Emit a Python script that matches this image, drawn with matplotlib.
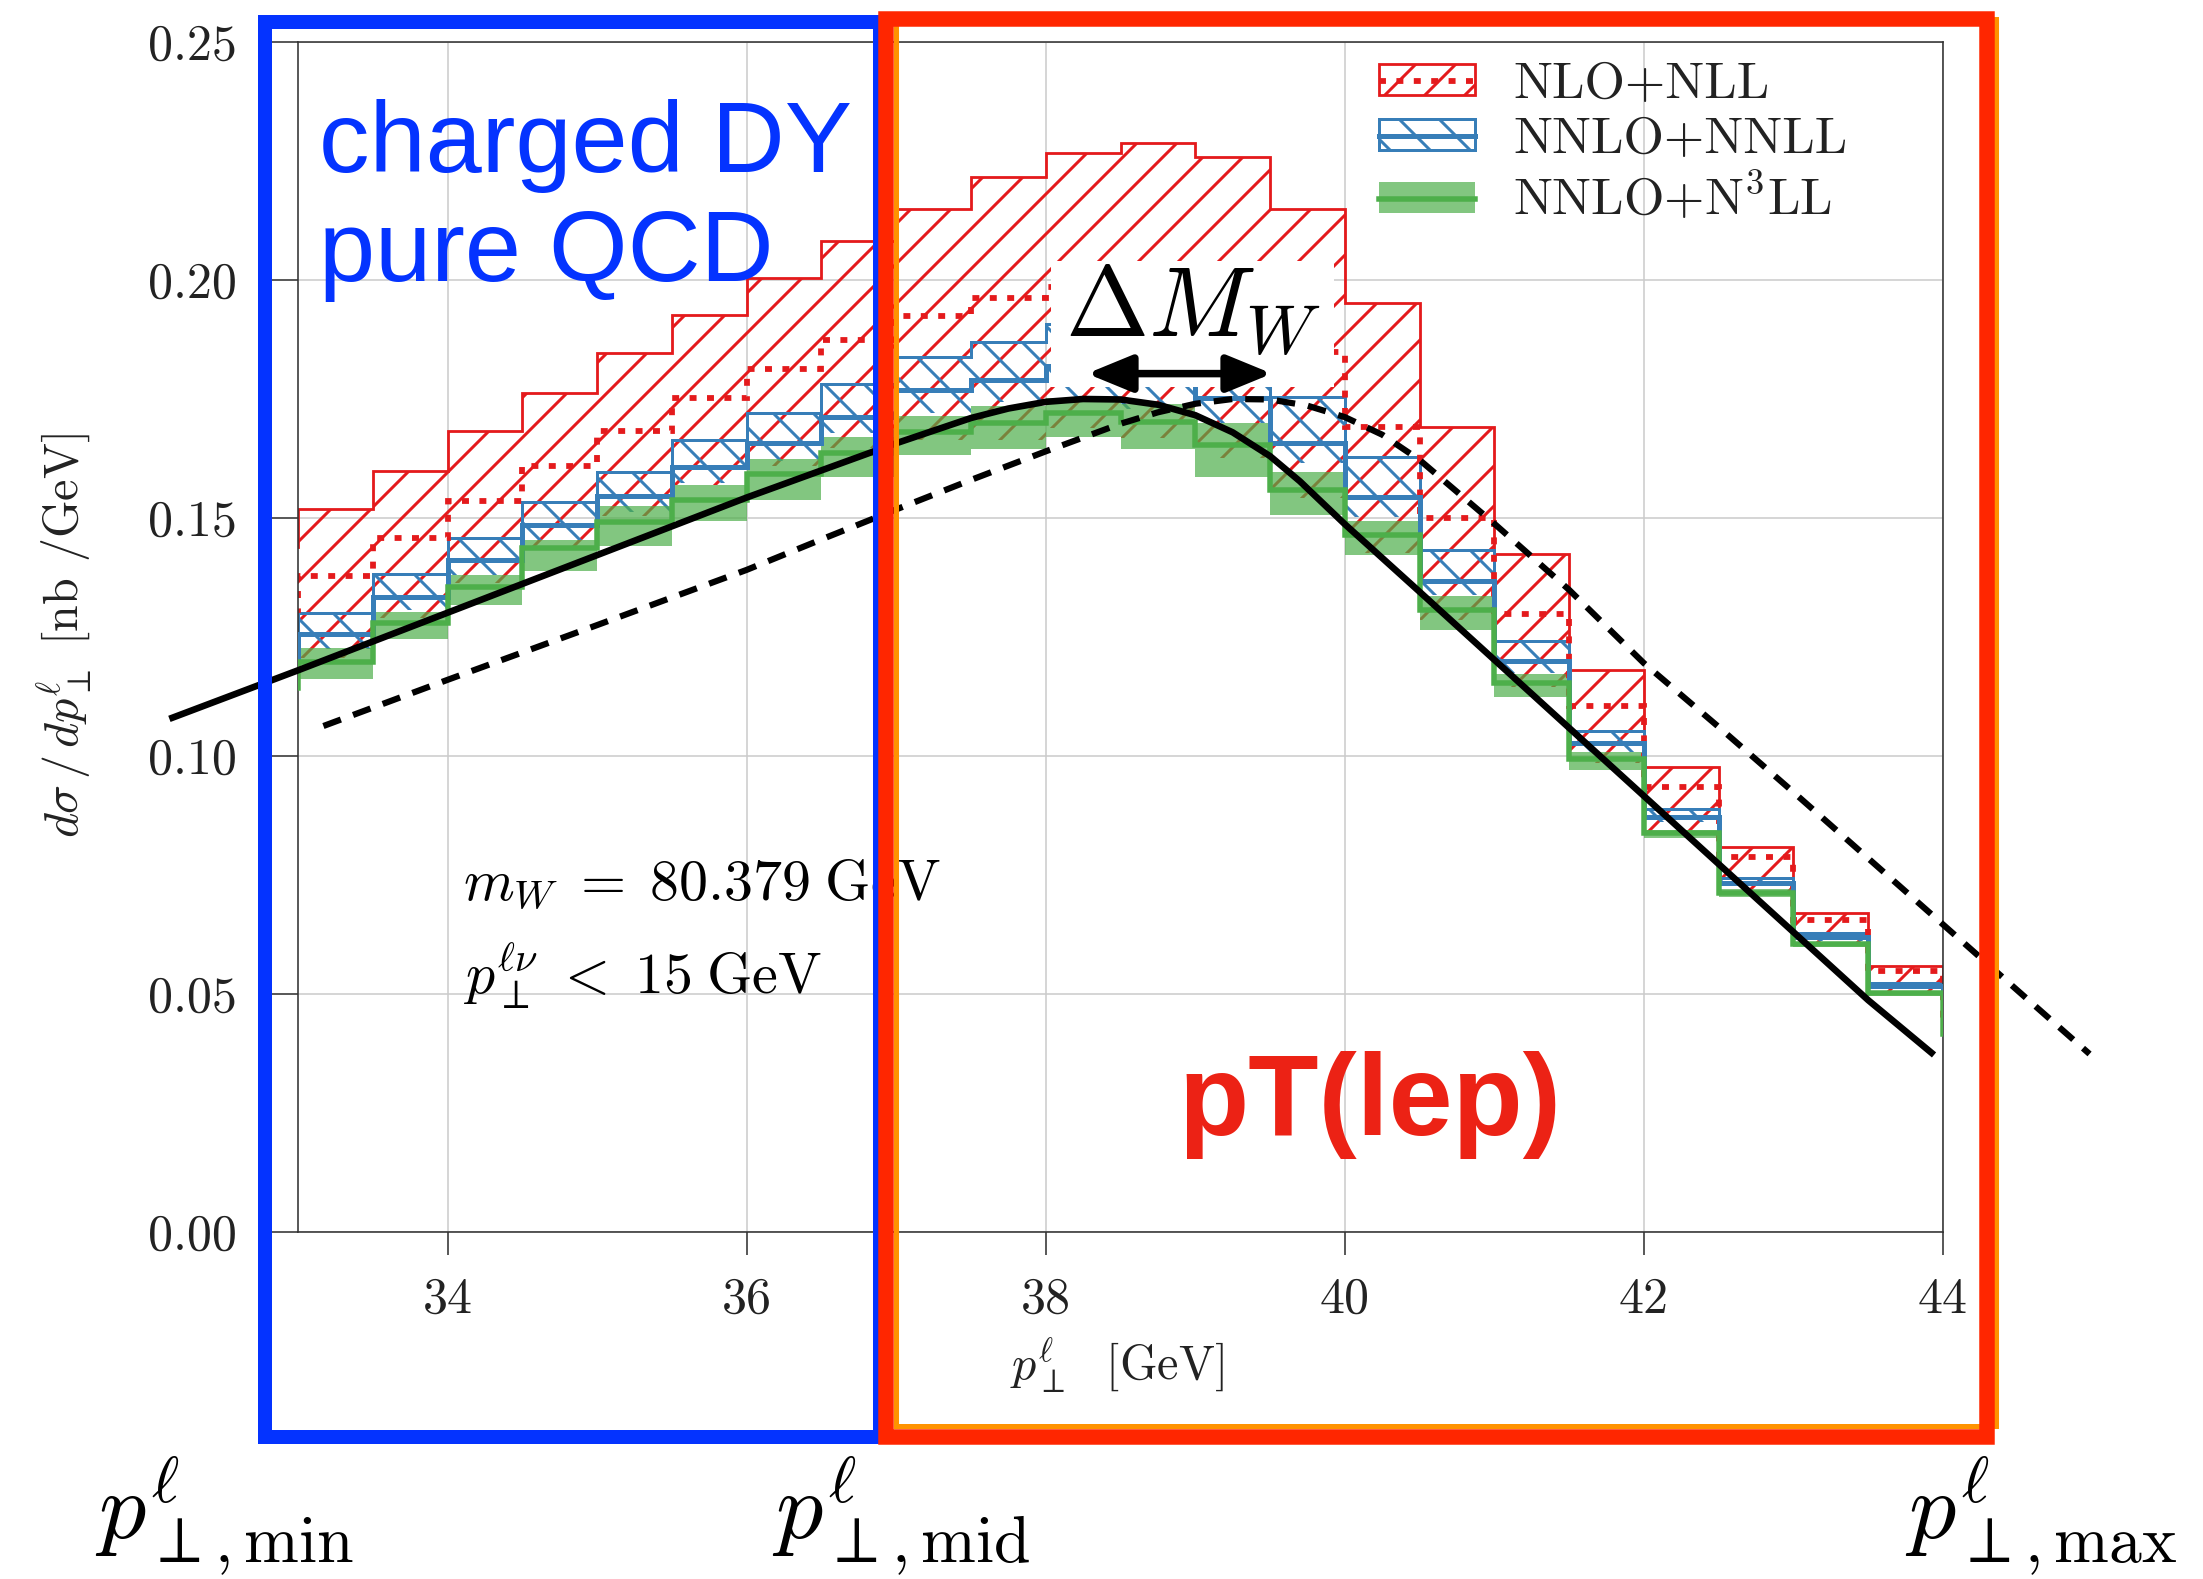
import numpy as np
import matplotlib
matplotlib.use("Agg")
import matplotlib.pyplot as plt
from matplotlib.patches import Rectangle, Patch
from matplotlib.lines import Line2D
from matplotlib.ticker import FixedLocator, FormatStrFormatter

# ------------------------------------------------------------------ data
bin_edges = [32.5, 33.0, 33.5, 34.0, 34.5, 35.0, 35.5, 36.0, 36.5, 37.0, 37.5, 38.0,
             38.5, 39.0, 39.5, 40.0, 40.5, 41.0, 41.5, 42.0, 42.5, 43.0, 43.5, 44.0, 44.5]

nlo_upper = [0.1440, 0.1519, 0.1599, 0.1683, 0.1763, 0.1847, 0.1927, 0.2004, 0.2082, 0.2150,
             0.2217, 0.2266, 0.2288, 0.2258, 0.2149, 0.1952, 0.1692, 0.1425, 0.1181, 0.0977,
             0.0809, 0.0671, 0.0558, 0.0460]
nlo_central = [0.1307, 0.1378, 0.1457, 0.1535, 0.1609, 0.1682, 0.1753, 0.1812, 0.1874, 0.1925,
               0.1962, 0.1985, 0.1985, 0.1940, 0.1848, 0.1692, 0.1499, 0.1298, 0.1105, 0.0935,
               0.0787, 0.0655, 0.0548, 0.0450]
nlo_lower = [0.1130, 0.1206, 0.1290, 0.1363, 0.1440, 0.1505, 0.1570, 0.1610, 0.1647, 0.1664,
             0.1664, 0.1690, 0.1668, 0.1626, 0.1542, 0.1426, 0.1286, 0.1146, 0.0985, 0.0840,
             0.0712, 0.0602, 0.0500, 0.0410]

nnlo_upper = [0.1250, 0.1300, 0.1382, 0.1459, 0.1534, 0.1597, 0.1664, 0.1721, 0.1782, 0.1838,
              0.1870, 0.1907, 0.1900, 0.1850, 0.1755, 0.1628, 0.1433, 0.1242, 0.1053, 0.0888,
              0.0744, 0.0628, 0.0524, 0.0440]
nnlo_central = [0.1206, 0.1256, 0.1335, 0.1412, 0.1485, 0.1546, 0.1607, 0.1657, 0.1713, 0.1768,
                0.1790, 0.1820, 0.1800, 0.1752, 0.1657, 0.1545, 0.1368, 0.1200, 0.1027, 0.0872,
                0.0734, 0.0620, 0.0517, 0.0430]
nnlo_lower = [0.1170, 0.1225, 0.1307, 0.1380, 0.1454, 0.1513, 0.1573, 0.1620, 0.1678, 0.1720,
              0.1744, 0.1748, 0.1730, 0.1700, 0.1615, 0.1503, 0.1338, 0.1174, 0.1009, 0.0862,
              0.0727, 0.0612, 0.0511, 0.0420]

n3ll_upper = [0.1170, 0.1227, 0.1303, 0.1380, 0.1454, 0.1525, 0.1570, 0.1625, 0.1670, 0.1715,
              0.1736, 0.1752, 0.1740, 0.1700, 0.1596, 0.1493, 0.1336, 0.1173, 0.1008, 0.0845,
              0.0720, 0.0609, 0.0506, 0.0430]
n3ll_central = [0.1143, 0.1198, 0.1280, 0.1356, 0.1437, 0.1492, 0.1538, 0.1592, 0.1636, 0.1681,
                0.1699, 0.1720, 0.1702, 0.1653, 0.1559, 0.1464, 0.1307, 0.1153, 0.0993, 0.0838,
                0.0713, 0.0605, 0.0502, 0.0416]
n3ll_lower = [0.1100, 0.1162, 0.1245, 0.1317, 0.1389, 0.1441, 0.1494, 0.1538, 0.1587, 0.1632,
              0.1646, 0.1671, 0.1646, 0.1587, 0.1506, 0.1422, 0.1265, 0.1124, 0.0971, 0.0828,
              0.0703, 0.0599, 0.0496, 0.0400]

# curves (solid: nominal, dashed: shifted mass)
solid_x = [32.14, 33.0, 34.0, 35.0, 36.0, 36.5, 37.0, 37.5, 37.75, 38.0, 38.25, 38.5, 38.75,
           39.0, 39.25, 39.5, 39.7, 40.0, 40.5, 41.0, 41.5, 42.0, 42.5, 43.0, 43.5, 43.94]
solid_y = [0.1078, 0.1180, 0.1301, 0.1422, 0.1543, 0.1600, 0.1657, 0.1710, 0.1730, 0.1744,
           0.1750, 0.1749, 0.1738, 0.1716, 0.1680, 0.1630, 0.1577, 0.1487, 0.1345, 0.1202,
           0.1059, 0.0916, 0.0773, 0.0630, 0.0487, 0.0372]
dashed_x = [33.17, 34.0, 35.0, 36.0, 36.5, 37.0, 37.5, 38.0, 38.5, 38.75, 39.0, 39.25, 39.5,
            39.75, 40.0, 40.25, 40.5, 41.0, 41.5, 42.0, 42.5, 43.0, 43.5, 44.0, 44.5, 44.98]
dashed_y = [0.1063, 0.1160, 0.1275, 0.1391, 0.1455, 0.1518, 0.1580, 0.1640, 0.1698, 0.1722,
            0.1740, 0.1750, 0.1749, 0.1736, 0.1712, 0.1675, 0.1622, 0.1488, 0.1349, 0.1195,
            0.1061, 0.0924, 0.0785, 0.0646, 0.0507, 0.0374]

x_ticks = [34, 36, 38, 40, 42, 44]
y_ticks = [0.00, 0.05, 0.10, 0.15, 0.20, 0.25]
legend_labels = ["NLO+NLL", "NNLO+NNLL", r"NNLO+N$^{3}$LL"]

# ------------------------------------------------------------------ style
W, H, DPI = 2203, 1579, 120


def P(px):
    """pixels -> points at the output dpi"""
    return px * 72.0 / DPI


plt.rcParams["font.family"] = ["cmr10", "DejaVu Serif"]
plt.rcParams["mathtext.fontset"] = "cm"
plt.rcParams["axes.formatter.use_mathtext"] = True
plt.rcParams["axes.unicode_minus"] = False
plt.rcParams["hatch.linewidth"] = P(3.0)

RED = "#E41A1C"
BLUE = "#377EB8"
GREEN = "#4DAF4A"
FRAME_BLUE = "#0433FF"
FRAME_RED = "#FF2600"
FRAME_ORANGE = "#FF9300"
TXT_RED = "#EC2215"
DARK = "#222222"


def fx(px):
    return px / W


def fy(py):
    return 1 - py / H


fig = plt.figure(figsize=(W / DPI, H / DPI), dpi=DPI)
ax = fig.add_axes([fx(298), fy(1232), (1943 - 298) / W, (1232 - 42) / H])
ax.set_xlim(33, 44)
ax.set_ylim(0, 0.25)

ax.grid(True, color="#cccccc", lw=P(1.6))
ax.set_axisbelow(True)
for sp in ax.spines.values():
    sp.set_color("#333333")
    sp.set_linewidth(P(1.6))

ax.xaxis.set_major_locator(FixedLocator(x_ticks))
ax.yaxis.set_major_locator(FixedLocator(y_ticks))
ax.xaxis.set_major_formatter(FormatStrFormatter("%d"))
ax.yaxis.set_major_formatter(FormatStrFormatter("%.2f"))
ax.tick_params(axis="x", direction="out", length=P(23), width=P(1.6), pad=P(22),
               labelsize=P(50), color="#333333", labelcolor=DARK)
ax.tick_params(axis="y", direction="out", length=P(26), width=P(1.6), pad=P(35),
               labelsize=P(50), color="#333333", labelcolor=DARK)

edges = np.array(bin_edges)

DOT = (0, (1.2, 1.8))

# bands
ax.stairs(nlo_upper, edges, baseline=nlo_lower, fill=True, facecolor="none",
          edgecolor=RED, hatch="/", linewidth=0, zorder=2.0)
ax.stairs(nnlo_upper, edges, baseline=nnlo_lower, fill=True, facecolor="none",
          edgecolor=BLUE, hatch="\\", linewidth=0, zorder=2.1)
ax.stairs(n3ll_upper, edges, baseline=n3ll_lower, fill=True, facecolor=GREEN,
          edgecolor="none", alpha=0.7, linewidth=0, zorder=2.2)
# outlines
ax.stairs(nlo_upper, edges, baseline=None, color=RED, lw=P(2.8), zorder=2.3)
ax.stairs(nnlo_upper, edges, baseline=None, color=BLUE, lw=P(3.0), zorder=2.4)
# central values
ax.stairs(nlo_central, edges, baseline=None, color=RED, lw=P(5.8), ls=DOT, zorder=2.5)
ax.stairs(nnlo_central, edges, baseline=None, color=BLUE, lw=P(5.0), zorder=2.6)
ax.stairs(n3ll_central, edges, baseline=None, color=GREEN, lw=P(5.5), zorder=2.7)

# curves
ax.plot(solid_x, solid_y, color="black", lw=P(6.6), clip_on=False, zorder=6,
        solid_capstyle="butt", solid_joinstyle="round")
ax.plot(dashed_x, dashed_y, color="black", lw=P(6.2), ls=(0, (3.0, 2.1)),
        clip_on=False, zorder=6)

# Delta M_W annotation
ax.add_patch(Rectangle((fx(1051), fy(387)), (1334 - 1051) / W, (387 - 261) / H,
                       transform=fig.transFigure, facecolor="white",
                       edgecolor="none", zorder=5, clip_on=False))
ax.text(fx(1193), fy(337), r"$\Delta M_W$", transform=fig.transFigure,
        fontsize=P(100), ha="center", va="baseline", color="black", zorder=7)
ax.annotate("", xy=(fx(1272), fy(373.6)), xytext=(fx(1087), fy(373.6)),
            xycoords="figure fraction", textcoords="figure fraction",
            arrowprops=dict(arrowstyle="<|-|>,head_length=0.95,head_width=0.39",
                            mutation_scale=P(40), color="black", lw=P(7.5),
                            shrinkA=0, shrinkB=0),
            zorder=7)

# info text
ax.text(fx(463), fy(899), r"$m_W\;=\;80.379\;\mathrm{GeV}$",
        transform=fig.transFigure, fontsize=P(58), ha="left", va="baseline",
        color="black", zorder=7)
ax.text(fx(463), fy(994), r"$p_{\perp}^{\ell\nu}\;<\;15\;\mathrm{GeV}$",
        transform=fig.transFigure, fontsize=P(58), ha="left", va="baseline",
        color="black", zorder=7)

# axis labels
ax.set_xlabel(r"$p_{\perp}^{\ell}$  [GeV]", fontsize=P(48), color=DARK)
ax.xaxis.set_label_coords((1117 - 298) / 1645, (1232 - 1365) / 1190)
ax.xaxis.label.set_va("center")
ax.set_ylabel(r"$d\sigma\,/\,dp_{\perp}^{\ell}$ [nb /GeV]", fontsize=P(48), color=DARK)
ax.yaxis.set_label_coords((64 - 298) / 1645, (1232 - 636) / 1190)
ax.yaxis.label.set_va("center")

# legend
h_red = (Patch(facecolor="white", edgecolor=RED, hatch="/", lw=P(2.8)),
         Line2D([], [], color=RED, lw=P(5.8), ls=DOT))
h_blue = (Patch(facecolor="white", edgecolor=BLUE, hatch="\\", lw=P(3.0)),
          Line2D([], [], color=BLUE, lw=P(5.0)))
h_green = (Patch(facecolor=GREEN, edgecolor="none", alpha=0.7),
           Line2D([], [], color=GREEN, lw=P(5.5)))
LEG_FS = 52
leg = ax.legend([h_red, h_blue, h_green], legend_labels, loc="upper left",
                bbox_to_anchor=(fx(1379), fy(62)), bbox_transform=fig.transFigure,
                frameon=False, fontsize=P(LEG_FS), handlelength=96 / LEG_FS,
                handleheight=29 / LEG_FS, handletextpad=38 / LEG_FS,
                labelspacing=0.18, borderpad=0, borderaxespad=0)
for t in leg.get_texts():
    t.set_color(DARK)
leg.set_zorder(8)

# overlay annotations
sans = ["Liberation Sans", "DejaVu Sans"]
fig.text(fx(319), fy(172), "charged DY", fontsize=P(101), color=FRAME_BLUE,
         family=sans, ha="left", va="baseline")
fig.text(fx(319), fy(281), "pure QCD", fontsize=P(101), color=FRAME_BLUE,
         family=sans, ha="left", va="baseline")
fig.text(fx(1178), fy(1135), "pT(lep)", fontsize=P(115), color=TXT_RED,
         family=sans, weight="bold", ha="left", va="baseline")

BOT_FS = P(94)
fig.text(fx(95), fy(1538), r"$p^{\ell}_{\perp,\mathrm{min}}$", fontsize=BOT_FS,
         ha="left", va="baseline", color="black")
fig.text(fx(772), fy(1538), r"$p^{\ell}_{\perp,\mathrm{mid}}$", fontsize=BOT_FS,
         ha="left", va="baseline", color="black")
fig.text(fx(1905), fy(1538), r"$p^{\ell}_{\perp,\mathrm{max}}$", fontsize=BOT_FS,
         ha="left", va="baseline", color="black")

# region frames
fig.add_artist(Rectangle((fx(264.5), fy(1436.5)), (880 - 264.5) / W, (1436.5 - 22) / H,
                         transform=fig.transFigure, fill=False, edgecolor=FRAME_BLUE,
                         lw=P(14), joinstyle="miter", zorder=10))
fig.add_artist(Rectangle((fx(895.5), fy(1426)), (1996 - 895.5) / W, (1426 - 19) / H,
                         transform=fig.transFigure, fill=False, edgecolor=FRAME_ORANGE,
                         lw=P(5), joinstyle="miter", zorder=10.5))
fig.add_artist(Rectangle((fx(886), fy(1436.5)), (1986.5 - 886) / W, (1436.5 - 19) / H,
                         transform=fig.transFigure, fill=False, edgecolor=FRAME_RED,
                         lw=P(15.5), joinstyle="miter", zorder=11))

fig.savefig("out.png", dpi=DPI)
